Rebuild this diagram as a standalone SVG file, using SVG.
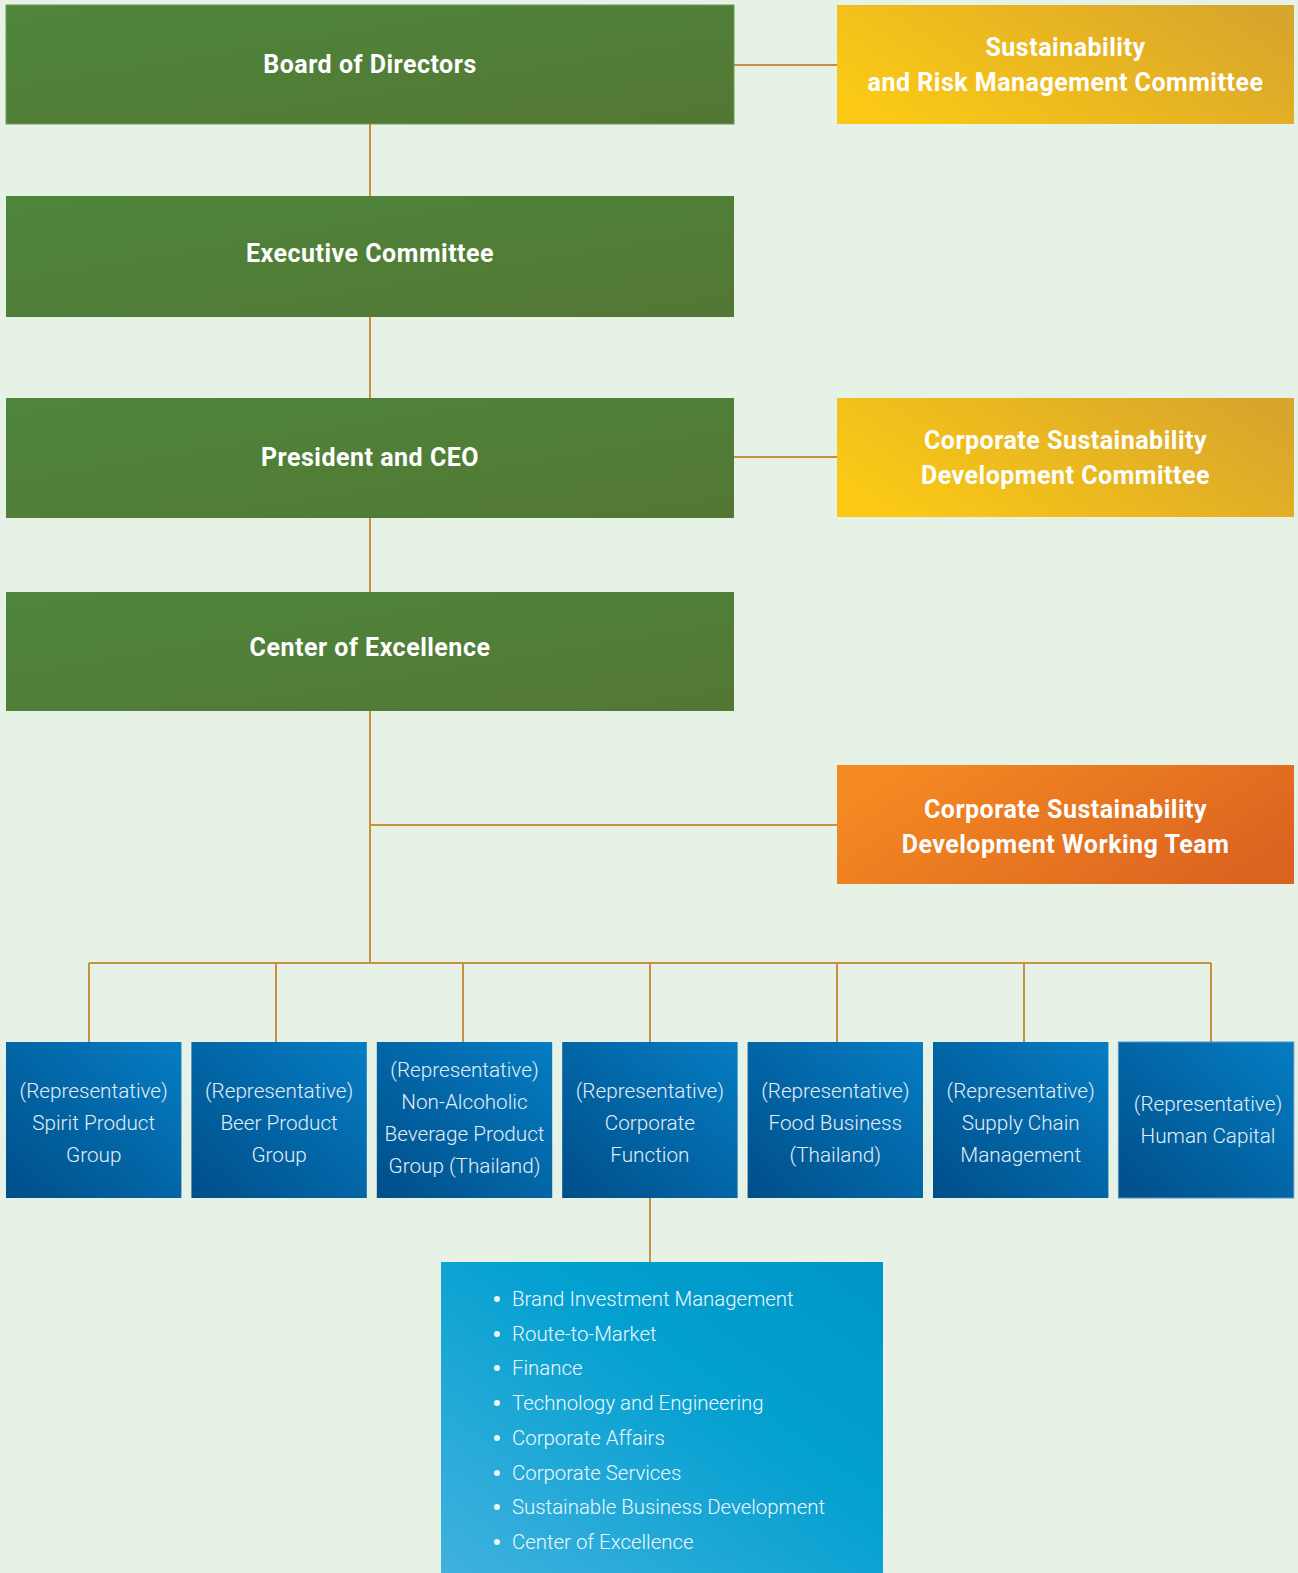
<svg xmlns="http://www.w3.org/2000/svg" width="1298" height="1573" viewBox="0 0 1298 1573">
<defs>
<linearGradient id="gGreen" x1="0" y1="0" x2="1" y2="1">
<stop offset="0" stop-color="#4e863b"/><stop offset="1" stop-color="#537734"/>
</linearGradient>
<linearGradient id="gYellow" x1="0" y1="0.7" x2="1" y2="0.3">
<stop offset="0" stop-color="#fbc915"/><stop offset="1" stop-color="#d9a62c"/>
</linearGradient>
<linearGradient id="gOrange" x1="0" y1="0.3" x2="1" y2="0.7">
<stop offset="0" stop-color="#f58a22"/><stop offset="1" stop-color="#db6320"/>
</linearGradient>
<linearGradient id="gBlue" x1="0" y1="1" x2="1" y2="0">
<stop offset="0" stop-color="#004e89"/><stop offset="1" stop-color="#057dc3"/>
</linearGradient>
<linearGradient id="gCyan" x1="0" y1="1" x2="1" y2="0">
<stop offset="0" stop-color="#40b1de"/><stop offset="0.6" stop-color="#03a0d0"/><stop offset="1" stop-color="#0096c6"/>
</linearGradient>
</defs>
<style>
.conn{stroke:#c8913d;stroke-width:2;fill:none}
.title{font-family:Roboto,"Liberation Sans",sans-serif;font-weight:700;font-size:25px;letter-spacing:0.5px;fill:#ffffff;text-anchor:middle}
.rep{font-family:Roboto,"Liberation Sans",sans-serif;font-weight:300;font-size:20.7px;fill:#e4eef7;text-anchor:middle}
.item{font-family:Roboto,"Liberation Sans",sans-serif;font-weight:300;font-size:20.4px;fill:#eef8fc}
</style>
<rect width="1298" height="1573" fill="#e7f2e6"/>
<g id="connectors">
<line class="conn" x1="370" y1="124" x2="370" y2="963"/>
<line class="conn" x1="734" y1="65" x2="837" y2="65"/>
<line class="conn" x1="734" y1="457" x2="837" y2="457"/>
<line class="conn" x1="370" y1="825" x2="837" y2="825"/>
<line class="conn" x1="89" y1="963" x2="1211" y2="963"/>
<line class="conn" x1="89" y1="963" x2="89" y2="1042"/>
<line class="conn" x1="276" y1="963" x2="276" y2="1042"/>
<line class="conn" x1="463" y1="963" x2="463" y2="1042"/>
<line class="conn" x1="650" y1="963" x2="650" y2="1042"/>
<line class="conn" x1="837" y1="963" x2="837" y2="1042"/>
<line class="conn" x1="1024" y1="963" x2="1024" y2="1042"/>
<line class="conn" x1="1211" y1="963" x2="1211" y2="1042"/>
<line class="conn" x1="650" y1="1198" x2="650" y2="1262"/>
</g>
<g id="board">
<rect x="6" y="5" width="728" height="119" fill="url(#gGreen)" stroke="#6f9a5c" stroke-width="1"/>
<text class="title" x="370" y="73">Board of Directors</text>
</g>
<g id="exec">
<rect x="6" y="196" width="728" height="121" fill="url(#gGreen)"/>
<text class="title" x="370" y="262">Executive Committee</text>
</g>
<g id="president">
<rect x="6" y="398" width="728" height="120" fill="url(#gGreen)"/>
<text class="title" x="370" y="466">President and CEO</text>
</g>
<g id="coe">
<rect x="6" y="592" width="728" height="119" fill="url(#gGreen)"/>
<text class="title" x="370" y="656">Center of Excellence</text>
</g>
<g id="srmc">
<rect x="837" y="5" width="457" height="119" fill="url(#gYellow)"/>
<text class="title" x="1065.5" y="56">Sustainability</text>
<text class="title" x="1065.5" y="91">and Risk Management Committee</text>
</g>
<g id="csdc">
<rect x="837" y="398" width="457" height="119" fill="url(#gYellow)"/>
<text class="title" x="1065.5" y="449">Corporate Sustainability</text>
<text class="title" x="1065.5" y="484">Development Committee</text>
</g>
<g id="csdwt">
<rect x="837" y="765" width="457" height="119" fill="url(#gOrange)"/>
<text class="title" x="1065.5" y="818">Corporate Sustainability</text>
<text class="title" x="1065.5" y="853">Development Working Team</text>
</g>
<g id="rep-spirit">
<rect x="6" y="1042" width="175.4" height="156" fill="url(#gBlue)"/>
<text class="rep" x="93.7" y="1098">(Representative)</text>
<text class="rep" x="93.7" y="1130">Spirit Product</text>
<text class="rep" x="93.7" y="1162">Group</text>
</g>
<g id="rep-beer">
<rect x="191.4" y="1042" width="175.4" height="156" fill="url(#gBlue)"/>
<text class="rep" x="279.1" y="1098">(Representative)</text>
<text class="rep" x="279.1" y="1130">Beer Product</text>
<text class="rep" x="279.1" y="1162">Group</text>
</g>
<g id="rep-nab">
<rect x="376.8" y="1042" width="175.4" height="156" fill="url(#gBlue)"/>
<text class="rep" x="464.5" y="1077">(Representative)</text>
<text class="rep" x="464.5" y="1109">Non-Alcoholic</text>
<text class="rep" x="464.5" y="1141">Beverage Product</text>
<text class="rep" x="464.5" y="1173">Group (Thailand)</text>
</g>
<g id="rep-corp">
<rect x="562.2" y="1042" width="175.4" height="156" fill="url(#gBlue)"/>
<text class="rep" x="649.9" y="1098">(Representative)</text>
<text class="rep" x="649.9" y="1130">Corporate</text>
<text class="rep" x="649.9" y="1162">Function</text>
</g>
<g id="rep-food">
<rect x="747.6" y="1042" width="175.4" height="156" fill="url(#gBlue)"/>
<text class="rep" x="835.3" y="1098">(Representative)</text>
<text class="rep" x="835.3" y="1130">Food Business</text>
<text class="rep" x="835.3" y="1162">(Thailand)</text>
</g>
<g id="rep-supply">
<rect x="933" y="1042" width="175.4" height="156" fill="url(#gBlue)"/>
<text class="rep" x="1020.7" y="1098">(Representative)</text>
<text class="rep" x="1020.7" y="1130">Supply Chain</text>
<text class="rep" x="1020.7" y="1162">Management</text>
</g>
<g id="rep-hc">
<rect x="1118.4" y="1042" width="175.4" height="156" fill="url(#gBlue)" stroke="#4f92c4" stroke-width="1"/>
<text class="rep" x="1208" y="1111">(Representative)</text>
<text class="rep" x="1208" y="1143">Human Capital</text>
</g>
<g id="functions">
<rect x="441" y="1262" width="442" height="311" fill="url(#gCyan)"/>
<g fill="#eef8fc">
<circle cx="497" cy="1299" r="3"/>
<circle cx="497" cy="1334" r="3"/>
<circle cx="497" cy="1368" r="3"/>
<circle cx="497" cy="1403" r="3"/>
<circle cx="497" cy="1438" r="3"/>
<circle cx="497" cy="1473" r="3"/>
<circle cx="497" cy="1507" r="3"/>
<circle cx="497" cy="1542" r="3"/>
</g>
<text class="item" x="512" y="1306">Brand Investment Management</text>
<text class="item" x="512" y="1341">Route-to-Market</text>
<text class="item" x="512" y="1375">Finance</text>
<text class="item" x="512" y="1410">Technology and Engineering</text>
<text class="item" x="512" y="1445">Corporate Affairs</text>
<text class="item" x="512" y="1480">Corporate Services</text>
<text class="item" x="512" y="1514">Sustainable Business Development</text>
<text class="item" x="512" y="1549">Center of Excellence</text>
</g>
</svg>
